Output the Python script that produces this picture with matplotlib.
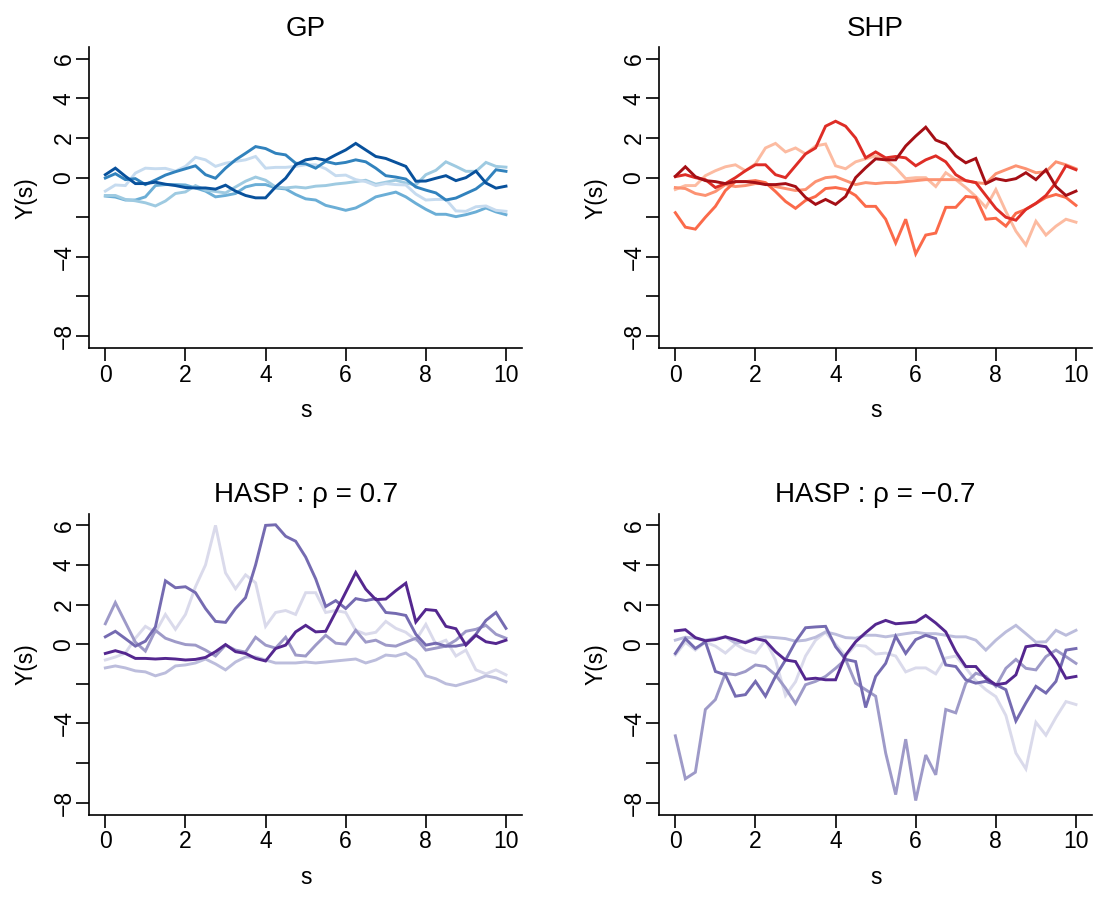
import numpy as np
import matplotlib
matplotlib.use("Agg")
import matplotlib.pyplot as plt

plt.rcParams['font.family'] = ['Liberation Sans', 'DejaVu Sans']

s = np.linspace(0, 10, 41)

# GP panel
gp_1 = [0.15, 0.48, 0.07, -0.3, -0.3, -0.23, -0.33, -0.4, -0.5, -0.52, -0.52, -0.58, -0.38, -0.68, -0.9, -1.02, -1.02, -0.47, -0.03, 0.65, 0.9, 0.98, 0.88, 1.15, 1.4, 1.73, 1.4, 1.07, 0.97, 0.77, 0.57, -0.18, -0.17, -0.03, 0.1, -0.15, 0.0, 0.33, -0.27, -0.53, -0.43]
gp_2 = [-0.02, 0.2, -0.1, -0.05, -0.35, -0.12, 0.13, 0.3, 0.45, 0.6, 0.15, -0.03, 0.48, 0.9, 1.23, 1.57, 1.47, 1.23, 1.15, 0.73, 0.7, 0.48, 0.82, 0.7, 0.77, 0.9, 0.8, 0.48, 0.1, 0.03, -0.07, -0.47, -0.63, -0.77, -1.13, -1.03, -0.8, -0.57, -0.18, 0.4, 0.32]
gp_3 = [-0.68, -0.37, -0.4, 0.23, 0.48, 0.45, 0.47, 0.33, 0.57, 1.03, 0.9, 0.57, 0.73, 0.82, 0.9, 1.07, 0.48, 0.52, 0.52, 0.57, 0.65, 0.65, 0.45, 0.1, 0.13, -0.1, -0.2, -0.4, -0.3, -0.35, -0.37, -0.83, -1.13, -1.1, -1.1, -1.68, -1.7, -1.47, -1.43, -1.65, -1.7]
gp_4 = [-0.9, -0.9, -1.1, -1.17, -1.27, -1.43, -1.18, -0.8, -0.72, -0.4, -0.63, -0.7, -0.77, -0.47, -0.18, 0.03, -0.13, -0.47, -0.52, -0.47, -0.52, -0.43, -0.4, -0.32, -0.27, -0.2, -0.13, -0.33, -0.23, -0.13, -0.27, -0.37, 0.15, 0.37, 0.8, 0.57, 0.32, 0.32, 0.77, 0.57, 0.53]
gp_5 = [-0.93, -0.98, -1.13, -1.13, -0.97, -0.4, -0.35, -0.35, -0.37, -0.52, -0.68, -0.97, -0.9, -0.8, -0.47, -0.35, -0.35, -0.52, -0.57, -0.85, -1.07, -1.13, -1.4, -1.52, -1.65, -1.53, -1.27, -0.97, -0.85, -0.73, -0.97, -1.3, -1.6, -1.85, -1.85, -1.97, -1.87, -1.73, -1.53, -1.73, -1.87]

# SHP panel
shp_1 = [0.07, 0.55, 0.05, -0.15, -0.2, -0.3, -0.2, -0.2, -0.25, -0.35, -0.35, -0.3, -0.45, -1.0, -1.35, -1.1, -1.35, -0.95, 0.0, 0.5, 0.95, 0.9, 0.9, 1.6, 2.1, 2.55, 1.9, 1.7, 1.1, 0.75, 0.97, -0.3, -0.05, -0.15, -0.05, 0.25, -0.1, 0.4, -0.45, -0.9, -0.68]
shp_2 = [0.05, 0.15, 0.0, -0.1, -0.5, -0.3, 0.0, 0.35, 0.65, 0.65, 0.15, 0.0, 0.6, 1.2, 1.5, 2.6, 2.85, 2.6, 2.0, 1.0, 1.3, 1.0, 1.07, 1.0, 0.6, 0.9, 1.1, 0.8, 0.15, -0.15, -0.25, -0.9, -1.55, -2.0, -2.15, -1.6, -1.3, -0.9, -0.25, 0.6, 0.4]
shp_3 = [-1.77, -2.5, -2.6, -2.0, -1.45, -0.65, -0.2, -0.2, -0.15, -0.25, -0.7, -1.2, -1.55, -1.15, -0.95, -0.55, -0.5, -0.6, -0.9, -1.45, -1.45, -2.1, -3.3, -2.1, -3.85, -2.9, -2.8, -1.5, -1.5, -0.95, -1.0, -2.1, -2.05, -2.45, -1.8, -1.6, -1.3, -1.0, -0.85, -1.0, -1.4]
shp_4 = [-0.5, -0.55, -0.8, -0.9, -0.7, -0.35, -0.45, -0.4, -0.3, -0.3, -0.45, -0.55, -0.65, -0.6, -0.2, 0.0, 0.05, -0.15, -0.35, -0.25, -0.3, -0.25, -0.25, -0.2, -0.15, -0.1, -0.1, -0.1, -0.1, -0.15, -0.25, -0.3, 0.2, 0.4, 0.6, 0.45, 0.25, 0.3, 0.8, 0.65, 0.45]
shp_5 = [-0.6, -0.4, -0.4, 0.1, 0.35, 0.55, 0.65, 0.35, 0.7, 1.5, 1.73, 1.3, 1.5, 1.2, 1.6, 1.7, 0.6, 0.45, 0.8, 0.95, 1.1, 0.9, 0.5, -0.05, 0.0, 0.0, -0.45, 0.25, -0.1, -0.5, -0.95, -1.5, -0.6, -1.7, -2.7, -3.4, -2.2, -2.9, -2.45, -2.1, -2.25]

# HASP rho = 0.7
hp_1 = [-0.47, -0.33, -0.47, -0.72, -0.72, -0.75, -0.72, -0.75, -0.8, -0.77, -0.67, -0.38, -0.02, -0.38, -0.47, -0.72, -0.85, -0.22, -0.05, 0.62, 0.95, 0.62, 0.65, 1.62, 2.62, 3.62, 2.78, 2.25, 2.28, 2.7, 3.08, 1.12, 1.75, 1.7, 0.9, 0.78, -0.05, 0.45, 0.12, 0.03, 0.2]
hp_2 = [0.37, 0.65, 0.28, -0.1, 0.15, 0.87, 3.2, 2.85, 2.9, 2.6, 1.8, 1.15, 1.1, 1.8, 2.35, 4.0, 6.0, 6.03, 5.45, 5.2, 4.4, 3.3, 1.9, 2.2, 1.8, 2.3, 2.2, 2.3, 1.6, 1.55, 1.45, 0.5, -0.05, 0.05, -0.1, -0.1, 0.0, 0.5, 1.2, 1.6, 0.8]
hp_3 = [1.03, 2.1, 1.1, 0.1, -0.35, 0.7, 0.3, 0.12, -0.02, -0.05, -0.3, -0.6, -0.05, -0.3, -0.4, 0.35, -0.05, -0.2, 0.35, -0.55, -0.6, -0.05, 0.45, 0.05, 0.0, 0.7, 0.1, 0.2, -0.05, -0.1, 0.1, 0.3, -0.3, -0.2, -0.1, 0.2, 0.65, 0.75, 0.95, 0.5, 0.3]
hp_4 = [-1.2, -1.1, -1.2, -1.35, -1.4, -1.6, -1.45, -1.1, -1.05, -0.95, -0.75, -1.0, -1.3, -0.9, -0.65, -0.65, -0.8, -0.95, -0.95, -0.95, -0.9, -0.95, -0.9, -0.85, -0.8, -0.75, -0.95, -0.8, -0.55, -0.6, -0.45, -0.8, -1.6, -1.75, -2.0, -2.1, -1.95, -1.8, -1.6, -1.7, -1.9]
hp_5 = [-0.8, -0.65, -0.45, 0.3, 0.9, 0.6, 1.5, 0.75, 1.5, 2.9, 4.0, 6.0, 3.6, 2.8, 3.5, 3.1, 0.9, 1.6, 1.7, 1.5, 2.6, 2.6, 1.6, 1.7, 1.6, 0.7, 0.5, 0.6, 1.15, 0.8, 0.6, 0.2, 1.0, 0.0, 0.2, -0.6, -0.3, -1.3, -1.5, -1.3, -1.55]

# HASP rho = -0.7
hn_1 = [0.67, 0.73, 0.33, 0.17, 0.23, 0.37, 0.23, 0.07, 0.28, 0.17, -0.38, -0.8, -0.88, -1.77, -1.72, -1.8, -1.8, -0.55, 0.12, 0.58, 1.0, 1.2, 1.03, 1.07, 1.12, 1.45, 1.07, 0.62, -0.38, -1.13, -1.13, -1.72, -2.05, -1.97, -1.55, -0.13, -0.05, -0.13, -0.8, -1.72, -1.63]
hn_2 = [-0.47, 0.28, -0.22, 0.12, -1.38, -1.55, -2.63, -2.55, -1.88, -2.63, -1.63, -0.8, 0.12, 0.83, 0.87, 0.9, -0.13, -0.77, -0.88, -3.2, -1.63, -0.97, 0.4, -0.47, 0.23, 0.45, 0.28, -1.05, -1.13, -1.8, -1.97, -1.88, -2.05, -2.3, -3.88, -2.97, -2.13, -2.47, -1.88, -0.3, -0.22]
hn_3 = [-4.63, -6.8, -6.47, -3.3, -2.8, -1.47, -1.55, -1.38, -1.05, -1.13, -1.55, -2.22, -3.0, -2.05, -1.88, -1.63, -1.22, -0.77, -1.97, -2.3, -2.63, -5.5, -7.6, -4.8, -7.9, -5.6, -6.6, -3.3, -3.47, -1.97, -1.47, -1.63, -2.13, -1.22, -0.77, -1.22, -1.3, -0.63, -0.3, -0.63, -0.97]
hn_4 = [0.2, 0.35, 0.3, 0.2, 0.28, 0.37, 0.05, 0.12, 0.3, 0.37, 0.33, 0.28, 0.15, 0.2, 0.35, 0.62, 0.5, 0.33, 0.3, 0.45, 0.45, 0.37, 0.45, 0.53, 0.6, 0.53, 0.53, 0.45, 0.37, 0.37, 0.2, -0.3, 0.2, 0.62, 0.95, 0.53, 0.1, 0.12, 0.7, 0.45, 0.7]
hn_5 = [-0.55, 0.1, -0.3, 0.1, -0.1, -0.45, 0.0, -0.3, -0.45, 0.2, -0.8, -2.6, -1.9, -0.6, 0.2, 0.6, 0.0, -0.6, -0.05, -0.1, -0.5, -0.45, -0.6, -1.4, -1.2, -1.2, -1.5, -0.7, -0.6, -1.2, -1.85, -2.3, -2.65, -3.6, -5.5, -6.3, -3.95, -4.6, -3.7, -2.9, -3.05]

titles = ["GP", "SHP", "HASP : \u03c1 = 0.7", "HASP : \u03c1 = \u22120.7"]

# colours, darkest first (same order as the series)
blues = ["#08519C", "#3182BD", "#C6DBEF", "#9ECAE1", "#6BAED6"]
reds = ["#A50F15", "#DE2D26", "#FB6A4A", "#FC9272", "#FCBBA1"]
purples = ["#54278F", "#756BB1", "#9E9AC8", "#BCBDDC", "#DADAEB"]

yticks = [-8, -6, -4, -2, 0, 2, 4, 6]
ytick_labels = ["\u22128", "", "\u22124", "", "0", "2", "4", "6"]
xticks = [0, 2, 4, 6, 8, 10]

panels = [
    ([gp_1, gp_2, gp_3, gp_4, gp_5], blues),
    ([shp_1, shp_2, shp_3, shp_4, shp_5], reds),
    ([hp_1, hp_2, hp_3, hp_4, hp_5], purples),
    ([hn_1, hn_2, hn_3, hn_4, hn_5], purples),
]

W, H = 1097, 899
fig = plt.figure(figsize=(W / 100, H / 100), dpi=100)

# plot regions in pixels: left, top, right, bottom
boxes = [(89.3, 47, 522, 348.3), (659.3, 47, 1092, 348.3),
         (89.3, 513.5, 522, 814.8), (659.3, 513.5, 1092, 814.8)]

for (series, cols), title, (l, t, r, b) in zip(panels, titles, boxes):
    ax = fig.add_axes([l / W, (H - b) / H, (r - l) / W, (b - t) / H])
    # draw lightest first so the dark ones sit on top
    for y, c in reversed(list(zip(series, cols))):
        ax.plot(s, y, color=c, lw=2.1, solid_joinstyle='miter')
    ax.set_xlim(-0.4, 10.4)
    ax.set_ylim(-8.62, 6.6)
    for sp in ['top', 'right']:
        ax.spines[sp].set_visible(False)
    for sp in ['left', 'bottom']:
        ax.spines[sp].set_linewidth(1.2)
    ax.set_xticks(xticks)
    ax.set_yticks(yticks)
    ax.set_yticklabels(ytick_labels)
    ax.tick_params(direction='out', length=9.5, width=1.2, labelsize=16.5)
    ax.tick_params(axis='x', pad=1.5)
    ax.tick_params(axis='y', pad=0.5, labelrotation=90)
    for lab in ax.get_yticklabels():
        lab.set_va('center')
    ax.set_title(title, fontsize=20, pad=8)
    ax.set_xlabel("s", fontsize=16.5, labelpad=9)
    ax.set_ylabel("Y(s)", fontsize=16.5, labelpad=11)

fig.savefig("out.png", dpi=100)
